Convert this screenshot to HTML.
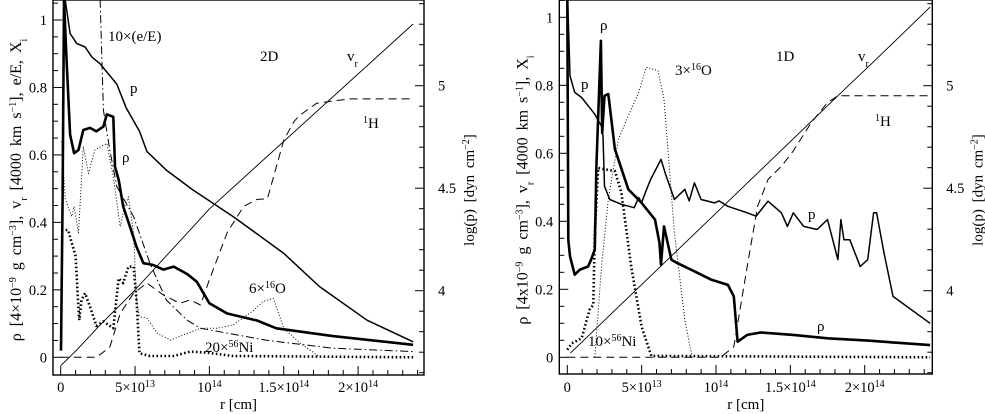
<!DOCTYPE html>
<html><head><meta charset="utf-8"><style>
html,body{margin:0;padding:0;background:#fff;}
svg{display:block;font-family:"Liberation Serif",serif;}
</style></head><body>
<svg id="fig" width="985" height="414" viewBox="0 0 985 414" xmlns="http://www.w3.org/2000/svg">
<g id="L"></g>
<g id="R"></g>
</svg>
<script>
// x in units of 1e13 cm, y in left-axis units; pressure arrays are plotted on left-axis scale
const xTickVals = [0,5,10,15,20];
const xTickLabels = ["0","5×10<tspan baseline-shift='super' font-size='10'>13</tspan>","10<tspan baseline-shift='super' font-size='10'>14</tspan>","1.5×10<tspan baseline-shift='super' font-size='10'>14</tspan>","2×10<tspan baseline-shift='super' font-size='10'>14</tspan>"];
const yTickVals = [0,0.2,0.4,0.6,0.8,1];
const yTickLabels = ["0","0.2","0.4","0.6","0.8","1"];
const logpTickVals = [4,4.5,5];
const logpTickLabels = ["4","4.5","5"];

const vr2dX = [0,1.08,2.65,4.9,10,23.7];
const vr2dY = [-0.025,0.022,0.096,0.195,0.44,0.988];
const p2dX = [0.3,0.63,1.08,1.64,2.1,2.65,3.77,4.4,5.3,5.8,7.1,8.9,11.6,15,17.4,20.6,23.7];
const p2dY = [1.06,0.96,0.93,0.92,0.89,0.87,0.81,0.74,0.67,0.61,0.555,0.496,0.417,0.308,0.21,0.11,0.046];
const rho2dX = [0.02,0.13,0.22,0.4,0.63,0.9,1.2,1.52,1.97,2.4,2.87,3.1,3.54,3.65,3.9,4.2,4.66,5.1,5.56,6.2,6.9,7.6,8.5,9.15,10,11.2,13.2,14.5,18.3,23.7];
const rho2dY = [0.02,0.47,1.06,0.88,0.66,0.605,0.615,0.674,0.68,0.67,0.684,0.72,0.713,0.565,0.526,0.447,0.387,0.328,0.279,0.274,0.26,0.269,0.247,0.224,0.16,0.13,0.109,0.086,0.063,0.037];
const h2dX = [0,2.4,3.3,4,4.9,5.8,6.9,8,8.7,9.4,10,11.2,12.3,13.2,13.9,15,15.7,16.1,17.2,18.3,19.5,23.7];
const h2dY = [0,0,0.03,0.13,0.19,0.22,0.185,0.16,0.17,0.155,0.23,0.37,0.447,0.468,0.47,0.644,0.70,0.718,0.753,0.76,0.766,0.766];
const e2dX = [2.65,2.87,3.3,3.77,4.9,6,7.1,8.5,9.4,13.9,18.3,23.7];
const e2dY = [1.06,0.733,0.615,0.506,0.417,0.279,0.17,0.11,0.086,0.05,0.027,0.017];
const o2dX = [0.07,0.3,0.74,0.9,1.2,1.52,1.86,2.3,3.1,3.54,4,4.3,4.55,4.9,5.1,5.3,5.8,6.5,7.4,8.5,9.4,10.5,11.6,13,13.6,14.3,15,16.1,17.4];
const o2dY = [0.64,0.47,0.417,0.447,0.368,0.625,0.545,0.615,0.634,0.536,0.387,0.447,0.476,0.368,0.17,0.12,0.116,0.071,0.051,0.071,0.086,0.086,0.096,0.14,0.165,0.175,0.086,0.042,0.002];
const ni2dX = [0.07,0.5,1,1.12,1.25,1.4,1.64,1.97,2.4,2.87,3.54,3.9,4.2,4.55,4.9,5.1,5.3,6,7.6,8.7,9.8,11.6,23.7];
const ni2dY = [0.377,0.377,0.3,0.2,0.11,0.17,0.19,0.15,0.093,0.106,0.086,0.234,0.22,0.269,0.269,0.17,0.012,0.004,0.004,0.017,0.014,0.004,0];

const vr1dX = [0.2,12,19,20.5,24.4];
const vr1dY = [0.012,0.508,0.803,0.865,1.03];
const p1dX = [0.02,0.18,0.5,0.96,1.4,1.85,2.3,2.4,2.5,2.86,3.64,4.5,4.8,5,5.3,5.6,6.3,6.6,7.2,7.9,8.2,8.55,9,9.9,10.2,10.8,12.1,12.7,13.5,14.4,14.8,15.2,15.9,16.8,17.5,18.2,18.4,18.6,19,19.7,20.2,20.6,20.8,21.3,21.9,24.4];
const p1dY = [1.06,0.828,0.779,0.764,0.74,0.715,0.68,0.651,0.503,0.464,0.45,0.44,0.47,0.455,0.49,0.523,0.582,0.54,0.464,0.494,0.46,0.513,0.464,0.454,0.46,0.444,0.425,0.415,0.459,0.425,0.385,0.425,0.385,0.376,0.405,0.287,0.405,0.346,0.346,0.267,0.287,0.425,0.425,0.307,0.179,0.1];
const rho1dX = [0,0.07,0.18,0.5,0.85,1.4,1.6,1.85,1.96,2.08,2.26,2.35,2.5,2.76,3.2,4.1,5,5.9,6.2,6.3,6.5,7,7.4,8.55,9.7,10.8,11.2,11.45,12.1,13,15.2,17.5,20.2,24.4];
const rho1dY = [1.06,0.346,0.297,0.243,0.258,0.267,0.287,0.317,0.562,0.71,0.931,0.66,0.769,0.774,0.612,0.494,0.454,0.405,0.336,0.272,0.385,0.287,0.277,0.253,0.228,0.213,0.179,0.046,0.066,0.073,0.066,0.056,0.049,0.036];
const h1dX = [0,10.3,11.2,12.1,12.8,13.5,14.4,15.2,16.4,17.5,18.2,24.4];
const h1dY = [0,0,0.031,0.267,0.444,0.523,0.562,0.607,0.69,0.749,0.769,0.769];
const o1dX = [1.85,2.3,2.76,3.43,4.1,4.8,5.3,6.1,6.5,7.2,7.9,8.4];
const o1dY = [0,0.267,0.464,0.641,0.71,0.779,0.853,0.843,0.759,0.366,0.11,0];
const ni1dX = [0,0.3,0.96,1.5,1.75,1.85,2.08,2.5,3.2,3.64,4.3,5,5.65,24.4];
const ni1dY = [0.022,0.041,0.056,0.14,0.154,0.366,0.557,0.553,0.548,0.484,0.267,0.09,0.004,0];

const NS='http://www.w3.org/2000/svg';
function mk(parent,tag,attrs,txt){const e=document.createElementNS(NS,tag);for(const k in attrs)e.setAttribute(k,attrs[k]);if(txt!==undefined)e.innerHTML=txt;parent.appendChild(e);return e;}

function panel(g,cfg){
  const sx=v=>cfg.x0+v*cfg.kx, sy=v=>cfg.y0-v*cfg.ky, sp=v=>cfg.p4-(v-4)*cfg.kp;
  const clip='clip'+g.id;
  const cp=mk(g,'clipPath',{id:clip});mk(cp,'rect',{x:cfg.L,y:cfg.T,width:cfg.R-cfg.L,height:cfg.B-cfg.T});
  const frame=mk(g,'rect',{x:cfg.L,y:cfg.T,width:cfg.R-cfg.L,height:cfg.B-cfg.T,fill:'none',stroke:'#000','stroke-width':1.4});
  
  
  for(let i=0;i<=24;i++){const X=sx(i);if(X>cfg.R)break;const maj=i%5===0;
    const t=mk(g,'line',{x1:X,x2:X,y1:cfg.B,y2:cfg.B-(maj?9:5),stroke:'#000','stroke-width':1});
    }
  xTickVals.forEach((v,i)=>{const t=mk(g,'text',{x:sx(v),y:392,'text-anchor':'middle','font-size':14.5},xTickLabels[i]);
    });
  for(let i=0;i<=21;i++){const v=i*0.05,Y=sy(v);if(Y<cfg.T)break;const maj=i%4===0;
    const t=mk(g,'line',{x1:cfg.L,x2:cfg.L+(maj?9:5),y1:Y,y2:Y,stroke:'#000','stroke-width':1});
    }
  yTickVals.forEach((v,i)=>{const t=mk(g,'text',{x:cfg.L-6,y:sy(v)+5,'text-anchor':'end','font-size':14.5},yTickLabels[i]);
    });
  for(let i=36;i<=55;i++){const v=i/10,Y=sp(v);if(Y<cfg.T||Y>cfg.B)continue;const maj=i%5===0;
    const t=mk(g,'line',{x1:cfg.R,x2:cfg.R-(maj?9:5),y1:Y,y2:Y,stroke:'#000','stroke-width':1});
    }
  logpTickVals.forEach((v,i)=>{const t=mk(g,'text',{x:cfg.R+14,y:sp(v)+5,'text-anchor':'start','font-size':14.5},logpTickLabels[i]);
    });
  let t=mk(g,'text',{x:(cfg.L+cfg.R)/2,y:409,'text-anchor':'middle','font-size':15},'r  [cm]');
  
  t=mk(g,'text',{x:0,y:0,'text-anchor':'middle','font-size':16,'word-spacing':3,transform:`translate(${cfg.L-32},190) rotate(-90)`},cfg.ylab);
  
  t=mk(g,'text',{x:0,y:0,'text-anchor':'middle','font-size':15,'word-spacing':3,transform:`translate(${cfg.R+50},190) rotate(-90)`},'log(p)  [dyn cm<tspan baseline-shift="super" font-size="10">−2</tspan>]');
  
  const sg=mk(g,'g',{'clip-path':`url(#${clip})`});
  cfg.series.forEach(s=>{
    const d=s.x.map((v,i)=>(i?'L':'M')+sx(v).toFixed(1)+','+sy(s.y[i]).toFixed(1)).join('');
    const p=mk(sg,'path',Object.assign({d:d,fill:'none',stroke:'#000','stroke-linejoin':'round'},s.st));
    
    
  });
  cfg.ann.forEach(a=>{const e=mk(g,'text',{x:a[0],y:a[1],'font-size':15},a[2]);
    });
}
const thick={'stroke-width':2.6}, med={'stroke-width':1.5}, thin={'stroke-width':0.9};
const dash={'stroke-width':1,'stroke-dasharray':'8,5'}, dot={'stroke-width':1,'stroke-dasharray':'1,2'};
const tdot={'stroke-width':2.6,'stroke-dasharray':'1.6,2.4'}, dashdot={'stroke-width':1,'stroke-dasharray':'8,3,1.5,3'};
const sup=s=>`<tspan baseline-shift="super" font-size="10">${s}</tspan>`;
const sub=s=>`<tspan baseline-shift="sub" font-size="10">${s}</tspan>`;

panel(document.getElementById('L'),{L:53,R:424,T:0,B:375,x0:60.7,kx:14.87,y0:357.3,ky:337.3,p4:290.7,kp:205,
  ylab:`ρ [4×10${sup('−9')} g cm${sup('−3')}], v${sub('r')} [4000 km s${sup('−1')}], e/E, X${sub('i')}`,
  series:[{name:'vr-2d',x:vr2dX,y:vr2dY,st:thin},{name:'pressure-2d',x:p2dX,y:p2dY,st:med},
    {name:'density-2d',x:rho2dX,y:rho2dY,st:thick},{name:'hydrogen-2d',x:h2dX,y:h2dY,st:dash},
    {name:'energy-ratio-2d',x:e2dX,y:e2dY,st:dashdot},{name:'oxygen-2d',x:o2dX,y:o2dY,st:dot},
    {name:'nickel-2d',x:ni2dX,y:ni2dY,st:tdot}],
  ann:[[108,41,'10×(e/E)','label-energy'],[260,61,'2D','label-2d'],[347,61,`v${sub('r')}`,'label-vr'],
    [130,93,'p','label-p'],[363,128,`${sup('1')}H`,'label-h'],[122,162,'ρ','label-rho'],
    [249,293,`6×${sup('16')}O`,'label-oxygen'],[205,352,`20×${sup('56')}Ni`,'label-nickel']]});

panel(document.getElementById('R'),{L:559.3,R:932.3,T:0,B:374,x0:567.3,kx:14.87,y0:357.3,ky:340,p4:290.7,kp:205,
  ylab:`ρ [4x10${sup('−9')} g cm${sup('−3')}], v${sub('r')} [4000 km s${sup('−1')}], X${sub('i')}`,
  series:[{name:'vr-1d',x:vr1dX,y:vr1dY,st:thin},{name:'pressure-1d',x:p1dX,y:p1dY,st:med},
    {name:'density-1d',x:rho1dX,y:rho1dY,st:thick},{name:'hydrogen-1d',x:h1dX,y:h1dY,st:dash},
    {name:'oxygen-1d',x:o1dX,y:o1dY,st:dot},{name:'nickel-1d',x:ni1dX,y:ni1dY,st:tdot}],
  ann:[[600,30,'ρ','label-rho-top'],[581,89,'p','label-p-left'],[675,75,`3×${sup('16')}O`,'label-oxygen'],
    [776,61,'1D','label-1d'],[858,61,`v${sub('r')}`,'label-vr'],[875,126,`${sup('1')}H`,'label-h'],
    [808,219,'p','label-p-right'],[817,331,'ρ','label-rho-bottom'],[588,346,`10×${sup('56')}Ni`,'label-nickel']]});
</script>
</body></html>
